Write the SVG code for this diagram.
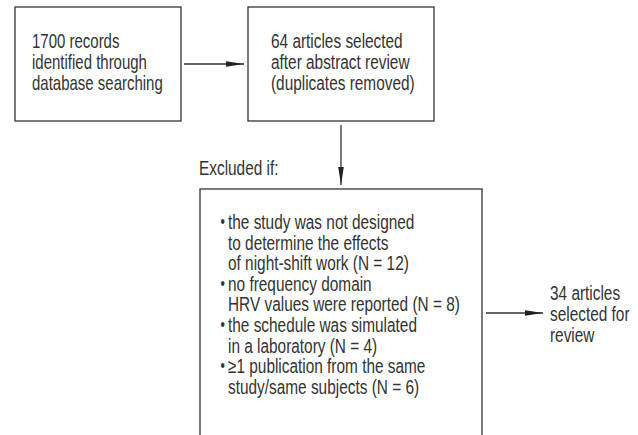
<svg xmlns="http://www.w3.org/2000/svg" width="638" height="435" viewBox="0 0 638 435">
<style>
.box{fill:#fff;stroke:#333;stroke-width:1.3}
.t{font-family:"Liberation Sans",Arial,sans-serif;font-size:20px;fill:#333}
.ln{stroke:#333;stroke-width:1.3;fill:none}
</style>
<defs>
<marker id="ah" markerUnits="userSpaceOnUse" markerWidth="18" markerHeight="8" refX="18" refY="4" orient="auto">
<path d="M0,1.2 L18,4 L0,6.8 Z" fill="#222"/>
</marker>
</defs>
<rect width="638" height="435" fill="#fff"/>
<g id="connectors">
<line class="ln" x1="184" y1="64" x2="244" y2="64" marker-end="url(#ah)"/>
<line class="ln" x1="341" y1="125" x2="341" y2="185" marker-end="url(#ah)"/>
<line class="ln" x1="486" y1="313" x2="543" y2="313" marker-end="url(#ah)"/>
</g>
<g id="records">
<rect class="box" x="15" y="7" width="166" height="114"/>
<g transform="translate(32 0) scale(0.75 1)" class="t">
<text x="0" y="48">1700 records</text>
<text x="0" y="69">identified through</text>
<text x="0" y="90">database searching</text>
</g>
</g>
<g id="selected64">
<rect class="box" x="248" y="7" width="186" height="114"/>
<g transform="translate(271 0) scale(0.77 1)" class="t">
<text x="0" y="48">64 articles selected</text>
<text x="0" y="69">after abstract review</text>
<text x="0" y="90">(duplicates removed)</text>
</g>
</g>
<g id="excluded-label">
<g transform="translate(199 0) scale(0.77 1)" class="t">
<text x="0" y="175">Excluded if:</text>
</g>
</g>
<g id="exclusions">
<rect class="box" x="200" y="189" width="282" height="270"/>
<g transform="translate(220.5 0) scale(0.7 1)" class="t" style="font-size:18px">
<text x="0" y="228">•</text>
<text x="0" y="289.8">•</text>
<text x="0" y="331">•</text>
<text x="0" y="372.2">•</text>
</g>
<g transform="translate(228 0) scale(0.77 1)" class="t">
<text x="0" y="229">the study was not designed</text>
<text x="0" y="249.6">to determine the effects</text>
<text x="0" y="270.2">of night-shift work (N = 12)</text>
<text x="0" y="290.8">no frequency domain</text>
<text x="0" y="311.4">HRV values were reported (N = 8)</text>
<text x="0" y="332">the schedule was simulated</text>
<text x="0" y="352.6">in a laboratory (N = 4)</text>
<text x="0" y="373.2">≥1 publication from the same</text>
<text x="0" y="393.8">study/same subjects (N = 6)</text>
</g>
</g>
<g id="selected34">
<g transform="translate(550 0) scale(0.77 1)" class="t">
<text x="0" y="300">34 articles</text>
<text x="0" y="321">selected for</text>
<text x="0" y="342">review</text>
</g>
</g>
</svg>
